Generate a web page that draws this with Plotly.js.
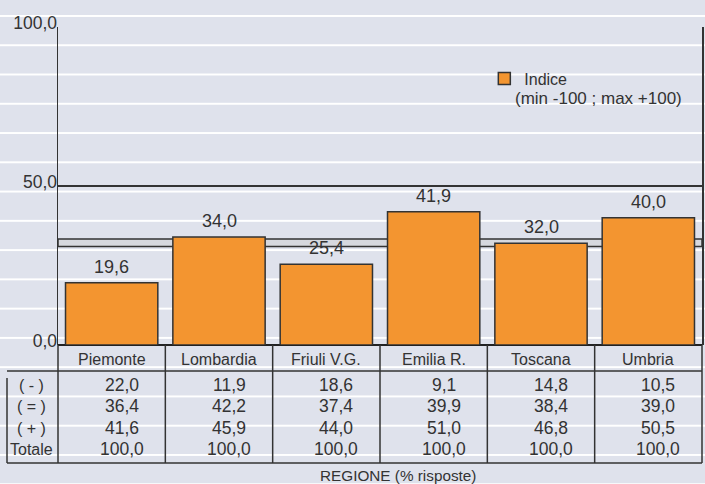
<!DOCTYPE html>
<html>
<head>
<meta charset="utf-8">
<script src="https://cdn.plot.ly/plotly-3.0.1.min.js"></script>
<style>
html, body { margin:0; padding:0; }
body {
  width:705px; height:484px; overflow:hidden;
  background-color:#dfe2ec;
  background-image: linear-gradient(to bottom, #ffffff 0px, #ffffff 2px, rgba(0,0,0,0) 2px, rgba(0,0,0,0) 29.27px);
  background-size: 100% 29.27px;
  background-position: 0 15px;
}
#chart { width:705px; height:484px; }
</style>
</head>
<body>
<div id="chart"></div>
<script>
// ---- data ----
var categories = ['Piemonte', 'Lombardia', 'Friuli V.G.', 'Emilia R.', 'Toscana', 'Umbria'];
var indice = [19.6, 34.0, 25.4, 41.9, 32.0, 40.0];
var rowLabels = ['( - )', '( = )', '( + )', 'Totale'];
var rowMinus = [22.0, 11.9, 18.6, 9.1, 14.8, 10.5];
var rowEqual = [36.4, 42.2, 37.4, 39.9, 38.4, 39.0];
var rowPlus = [41.6, 45.9, 44.0, 51.0, 46.8, 50.5];
var rowTotale = [100.0, 100.0, 100.0, 100.0, 100.0, 100.0];
var yTicks = [0, 50, 100];
var legendName = 'Indice';
var legendNote = '(min -100 ; max +100)';
var xTitle = 'REGIONE (% risposte)';

// ---- styles ----
var FONT = 'Liberation Sans, Arial, sans-serif';
var TXT = '#333333';
var LINE = '#333333';
function fmt(v) { return v.toFixed(1).replace('.', ','); }

var rows = [rowMinus, rowEqual, rowPlus, rowTotale];
var rowCenters = [40, 61, 83, 104];   // px below plot bottom
var headerCenter = 14;
var headerBottom = 26;
var tableBottom = 118;

var trace = {
  type: 'bar',
  x: categories,
  y: indice,
  name: legendName,
  marker: { color: '#f39530', line: { color: LINE, width: 1.5 } },
  hoverinfo: 'skip'
};

var annotations = [];
categories.forEach(function (c, i) {
  annotations.push({
    x: c, y: indice[i], xref: 'x', yref: 'y',
    text: fmt(indice[i]), showarrow: false,
    yanchor: 'bottom', yshift: 4,
    font: { family: FONT, size: 18, color: TXT }
  });
  annotations.push({
    x: c, y: 0, xref: 'x', yref: 'paper',
    text: c, showarrow: false, yanchor: 'middle', yshift: -headerCenter,
    font: { family: FONT, size: 16, color: TXT }
  });
  rows.forEach(function (r, k) {
    annotations.push({
      x: c, y: 0, xref: 'x', yref: 'paper',
      text: fmt(r[i]), showarrow: false, yanchor: 'middle',
      yshift: -rowCenters[k], xshift: 10,
      font: { family: FONT, size: 17.5, color: TXT }
    });
  });
});
rowLabels.forEach(function (lab, k) {
  annotations.push({
    x: 0, y: 0, xref: 'paper', yref: 'paper',
    text: lab, showarrow: false, yanchor: 'middle', xanchor: 'center',
    xshift: -27, yshift: -rowCenters[k],
    font: { family: FONT, size: 16, color: TXT }
  });
});
annotations.push({
  x: 0.5, y: 0, xref: 'paper', yref: 'paper', text: xTitle, showarrow: false,
  yanchor: 'middle', xshift: 18, yshift: -130,
  font: { family: FONT, size: 15.3, color: TXT }
});
annotations.push({
  x: 0.7096, y: 0.776, xref: 'paper', yref: 'paper', text: legendNote, showarrow: false,
  xanchor: 'left', yanchor: 'middle', xshift: -2,
  font: { family: FONT, size: 17, color: TXT }
});

// average band
var avg = indice.reduce(function (a, b) { return a + b; }, 0) / indice.length;
var shapes = [{
  type: 'rect', xref: 'paper', yref: 'y', x0: 0, x1: 1, y0: avg - 1.15, y1: avg + 1.15,
  fillcolor: '#d6d8de', line: { color: LINE, width: 1.5 }, layer: 'below'
}];
function vline(xp, y0px, y1px) {
  return { type: 'line', xref: 'paper', yref: 'paper', ysizemode: 'pixel', yanchor: 0,
    x0: xp, x1: xp, y0: -y0px, y1: -y1px, line: { color: LINE, width: 1.5 } };
}
function pxline(x0, x1, y0, y1) {
  return { type: 'line', xref: 'paper', yref: 'paper', xsizemode: 'pixel', xanchor: 0,
    ysizemode: 'pixel', yanchor: 0, x0: x0, x1: x1, y0: -y0, y1: -y1,
    line: { color: LINE, width: 1.5 } };
}
var n = categories.length;
for (var k = 0; k <= n; k++) shapes.push(vline(k / n, 0, tableBottom));
shapes.push(pxline(-51, 644, headerBottom, headerBottom));
shapes.push(pxline(-51, 644, tableBottom, tableBottom));
shapes.push(pxline(-51, -51, 33, tableBottom));

var layout = {
  width: 705, height: 484,
  margin: { l: 58, r: 3, t: 27, b: 139, pad: 0 },
  paper_bgcolor: 'rgba(0,0,0,0)',
  plot_bgcolor: 'rgba(0,0,0,0)',
  separators: ',.',
  bargap: 0.14,
  showlegend: true,
  legend: {
    x: 0.662, y: 0.891, xanchor: 'left', yanchor: 'top',
    bgcolor: 'rgba(0,0,0,0)', font: { family: FONT, size: 16, color: TXT },
    itemwidth: 30
  },
  xaxis: {
    showticklabels: false, ticks: '', showgrid: false, zeroline: false, showline: false,
    fixedrange: true
  },
  yaxis: {
    range: [0, 100], tickvals: yTicks, tickformat: '.1f',
    showgrid: true, gridcolor: LINE, gridwidth: 1.5,
    zeroline: true, zerolinecolor: '#222222', zerolinewidth: 2.5,
    showline: true, mirror: true, linecolor: LINE, linewidth: 1.5,
    ticks: '', ticklabelshift: -4, ticklabelstandoff: -4,
    tickfont: { family: FONT, size: 17.5, color: TXT },
    fixedrange: true
  },
  annotations: annotations,
  shapes: shapes
};

Plotly.newPlot('chart', [trace], layout, { displayModeBar: false, staticPlot: true });
</script>
</body>
</html>
